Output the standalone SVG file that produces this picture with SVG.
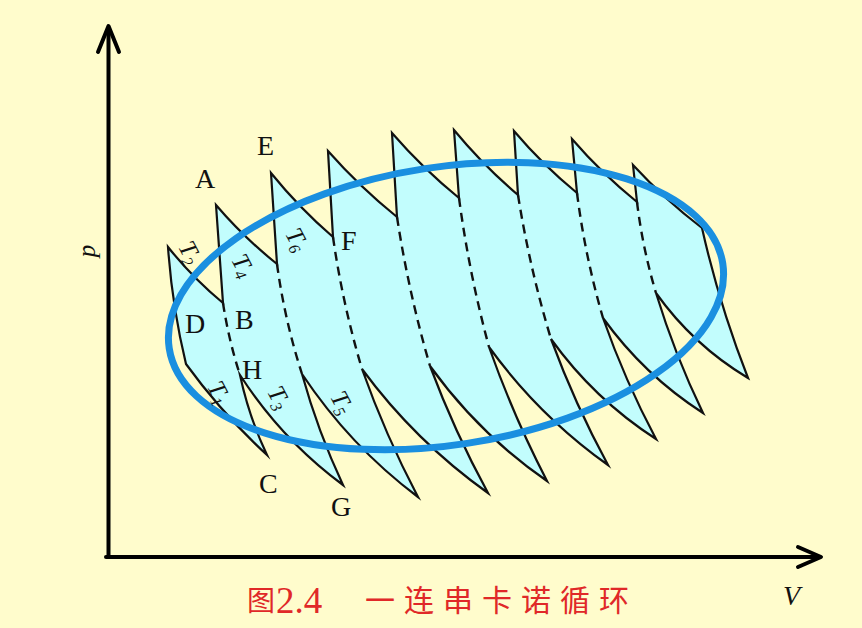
<svg xmlns="http://www.w3.org/2000/svg" width="862" height="628" viewBox="0 0 862 628">
  <defs>
    <style>
      .ln { fill: #c2fdfd; stroke: #111; stroke-width: 2.2; stroke-linejoin: miter; stroke-miterlimit: 6; }
      .dash { fill: none; stroke: #111; stroke-width: 2.4; stroke-dasharray: 9 6; }
      .lbl { font-family: "Liberation Serif", "Times New Roman", serif; font-size: 28px; fill: #111; }
      .tl { font-family: "Liberation Serif", "Times New Roman", serif; font-style: italic; font-size: 25px; fill: #111; }
      .ax { fill: none; stroke: #000; stroke-width: 4; stroke-linecap: round; stroke-linejoin: round; }
      .cap { fill: #e02828; }
    </style>
  </defs>
  <rect x="0" y="0" width="862" height="628" fill="#fffccc"/>

  <!-- axes -->
  <g id="axes">
    <line class="ax" x1="108.5" y1="557" x2="108.5" y2="28"/>
    <polyline class="ax" points="98,52 108.5,26 119,52"/>
    <line class="ax" x1="106" y1="557" x2="819" y2="557"/>
    <polyline class="ax" points="798,547 821,557 798,567"/>
    <text x="95" y="251" transform="rotate(-90 95 251)" text-anchor="middle" font-family="Liberation Serif, serif" font-style="italic" font-size="25" fill="#111">p</text>
    <text x="783" y="605" font-family="Liberation Serif, serif" font-style="italic" font-size="28" fill="#111">V</text>
  </g>

  <!-- chain of Carnot cycles -->
  <g id="cycles">
    <path class="ln"
      d="M168,247 Q192.6,277.8 223,303 L216,205 Q243.7,237.4 277,264 L271,173 Q299.1,207.8 333,237 L328,151 Q359.7,186.9 397,217 L392,133 Q422.7,168.4 459,198 L454,130 Q483.1,165.3 518,195 L514,131 Q542.7,164.9 577,193 L572,139 Q601.7,173.4 637,202 L633,165 Q664.8,199.5 702,228 Q719,304 748,378 Q693,345 656,293 Q674.8,354.8 703,413 Q644,375 603,318 Q624.9,380.5 656,439 Q594,399 551,339 Q574.9,404.1 608,465 Q539,416 489,347 Q513.4,416 547,481 Q479,434 430,366 Q454.5,431.6 488,493 Q415,441 362,369 Q385.4,435 418,497 Q350,446 302,374 Q317.8,431.2 343,485 Q282,440 240,375 Q248.8,416.6 267,455 Q222,413.5 186,364 Q172.1,306.3 168,247 Z"/>
    <g id="adiabats-dashed">
      <path class="dash" d="M223,303 Q228.6,339.7 240,375"/>
      <path class="dash" d="M277,264 Q284.6,320.1 302,374"/>
      <path class="dash" d="M333,237 Q342.6,304.1 362,369"/>
      <path class="dash" d="M397,217 Q408.6,292.6 430,366"/>
      <path class="dash" d="M459,198 Q469.1,273.5 489,347"/>
      <path class="dash" d="M518,195 Q529.6,268.1 551,339"/>
      <path class="dash" d="M577,193 Q585.1,256.5 603,318"/>
      <path class="dash" d="M637,202 Q642.6,248.3 656,293"/>
    </g>
  </g>

  <!-- arbitrary cycle -->
  <g id="ellipse">
    <ellipse cx="446" cy="306" rx="280" ry="139" transform="rotate(-8.7 446 306)" fill="none" stroke="#1a8fe0" stroke-width="7"/>
  </g>

  <!-- point labels -->
  <g id="labels">
    <text class="lbl" x="195" y="188">A</text>
    <text class="lbl" x="257" y="155">E</text>
    <text class="lbl" x="341" y="250">F</text>
    <text class="lbl" x="185" y="333">D</text>
    <text class="lbl" x="235" y="329">B</text>
    <text class="lbl" x="242" y="379">H</text>
    <text class="lbl" x="259" y="493">C</text>
    <text class="lbl" x="331" y="516">G</text>
  </g>

  <!-- temperature labels -->
  <g id="temps">
    <text class="tl" transform="translate(189,253) rotate(62)" text-anchor="middle" y="7">T<tspan font-size="16" dy="4">2</tspan></text>
    <text class="tl" transform="translate(242,266) rotate(62)" text-anchor="middle" y="7">T<tspan font-size="16" dy="4">4</tspan></text>
    <text class="tl" transform="translate(296,240) rotate(62)" text-anchor="middle" y="7">T<tspan font-size="16" dy="4">6</tspan></text>
    <text class="tl" transform="translate(218,393) rotate(62)" text-anchor="middle" y="7">T<tspan font-size="16" dy="4">1</tspan></text>
    <text class="tl" transform="translate(278,398) rotate(62)" text-anchor="middle" y="7">T<tspan font-size="16" dy="4">3</tspan></text>
    <text class="tl" transform="translate(341,403) rotate(62)" text-anchor="middle" y="7">T<tspan font-size="16" dy="4">5</tspan></text>
  </g>

  <!-- caption -->
  <g id="caption">
    <text class="cap" x="247" y="611" font-family="Noto Sans CJK SC, sans-serif" font-size="28">图</text>
    <text class="cap" x="276" y="613" font-family="Liberation Serif, serif" font-size="37">2.4</text>
    <text class="cap" x="365" y="611" font-family="Noto Sans CJK SC, sans-serif" font-size="30" letter-spacing="9">一连串卡诺循环</text>
  </g>
</svg>
